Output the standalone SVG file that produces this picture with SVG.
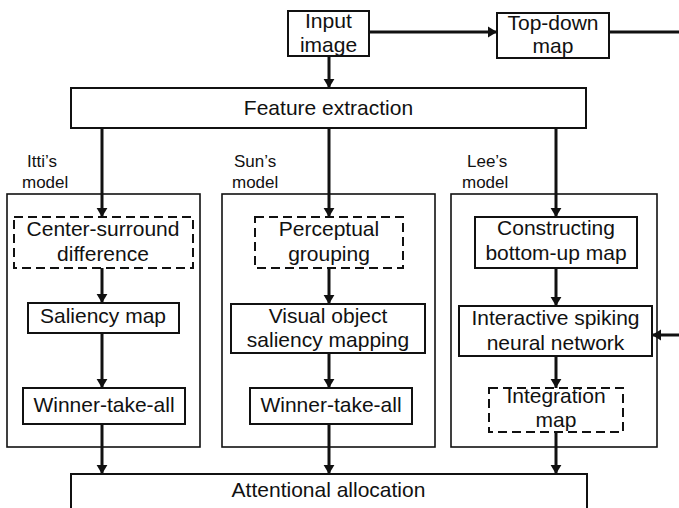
<svg xmlns="http://www.w3.org/2000/svg" width="679" height="508" viewBox="0 0 679 508">
<defs>
<marker id="ah" viewBox="0 0 10 12" refX="10" refY="6" markerWidth="9" markerHeight="13" markerUnits="userSpaceOnUse" orient="auto">
<path d="M0,0 L10,6 L0,12 z" fill="#111"/>
</marker>
</defs>
<style>
.box{fill:#fff;stroke:#111;stroke-width:2}
.dash{fill:#fff;stroke:#111;stroke-width:2;stroke-dasharray:9 5}
.cont{fill:none;stroke:#111;stroke-width:1.6}
.t{font-family:"Liberation Sans",Arial,sans-serif;font-size:21px;fill:#111;text-anchor:middle}
.lab{font-family:"Liberation Sans",Arial,sans-serif;font-size:17px;fill:#111}
.c{fill:none;stroke:#111;stroke-width:3}
.ca{fill:none;stroke:#111;stroke-width:3;marker-end:url(#ah)}
</style>
<rect width="679" height="508" fill="#fff"/>

<g id="containers">
<rect class="cont" x="7" y="194" width="193" height="253"/>
<rect class="cont" x="222" y="194" width="213" height="253"/>
<rect class="cont" x="451" y="194" width="206" height="253"/>
</g>

<g id="labels">
<text class="lab" x="27" y="167">Itti’s</text>
<text class="lab" x="22" y="188">model</text>
<text class="lab" x="234" y="167">Sun’s</text>
<text class="lab" x="232" y="188">model</text>
<text class="lab" x="467" y="167">Lee’s</text>
<text class="lab" x="462" y="188">model</text>
</g>

<g id="input">
<rect class="box" x="288" y="11" width="81" height="45"/>
<text class="t" x="328.5" y="28" textLength="47" lengthAdjust="spacingAndGlyphs">Input</text>
<text class="t" x="328.5" y="52">image</text>
</g>
<g id="topdown">
<rect class="box" x="497" y="13" width="112" height="45"/>
<text class="t" x="553" y="30">Top-down</text>
<text class="t" x="553" y="53">map</text>
</g>
<g id="feature">
<rect class="box" x="71" y="88" width="515" height="40"/>
<text class="t" x="328.5" y="115">Feature extraction</text>
</g>

<g id="center">
<rect class="dash" x="14" y="217" width="179" height="51"/>
<text class="t" x="103" y="236">Center-surround</text>
<text class="t" x="103" y="261">difference</text>
</g>
<g id="saliency">
<rect class="box" x="28" y="303" width="151" height="30"/>
<text class="t" x="103" y="323">Saliency map</text>
</g>
<g id="wta1">
<rect class="box" x="23" y="388" width="162" height="36"/>
<text class="t" x="104" y="412">Winner-take-all</text>
</g>

<g id="perceptual">
<rect class="dash" x="255" y="217" width="148" height="51"/>
<text class="t" x="329" y="236">Perceptual</text>
<text class="t" x="329" y="261">grouping</text>
</g>
<g id="visual">
<rect class="box" x="231" y="304" width="194" height="49"/>
<text class="t" x="328" y="323">Visual object</text>
<text class="t" x="328" y="347">saliency mapping</text>
</g>
<g id="wta2">
<rect class="box" x="250" y="388" width="162" height="36"/>
<text class="t" x="331" y="412">Winner-take-all</text>
</g>

<g id="constructing">
<rect class="box" x="475" y="217" width="162" height="51"/>
<text class="t" x="556" y="235">Constructing</text>
<text class="t" x="556" y="260">bottom-up map</text>
</g>
<g id="interactive">
<rect class="box" x="459" y="306" width="193" height="50"/>
<text class="t" x="555.5" y="325">Interactive spiking</text>
<text class="t" x="555.5" y="350">neural network</text>
</g>
<g id="integration">
<rect class="dash" x="489" y="388" width="134" height="44"/>
<text class="t" x="556" y="403">Integration</text>
<text class="t" x="556" y="427">map</text>
</g>

<g id="attentional">
<rect class="box" x="71" y="474" width="516" height="40"/>
<text class="t" x="328.5" y="497">Attentional allocation</text>
</g>

<g id="connectors">
<path class="ca" d="M369,32 H497"/>
<path class="c" d="M609,32 H679"/>
<path class="ca" d="M329,56 V88"/>
<path class="ca" d="M102,128 V217"/>
<path class="ca" d="M329,128 V217"/>
<path class="ca" d="M556,128 V217"/>
<path class="ca" d="M102,268 V303"/>
<path class="ca" d="M102,333 V388"/>
<path class="ca" d="M102,424 V474"/>
<path class="ca" d="M329,268 V304"/>
<path class="ca" d="M329,353 V388"/>
<path class="ca" d="M329,424 V474"/>
<path class="ca" d="M556,268 V306"/>
<path class="ca" d="M556,356 V388"/>
<path class="ca" d="M556,432 V474"/>
<path class="ca" d="M679,335 H652"/>
</g>
</svg>
